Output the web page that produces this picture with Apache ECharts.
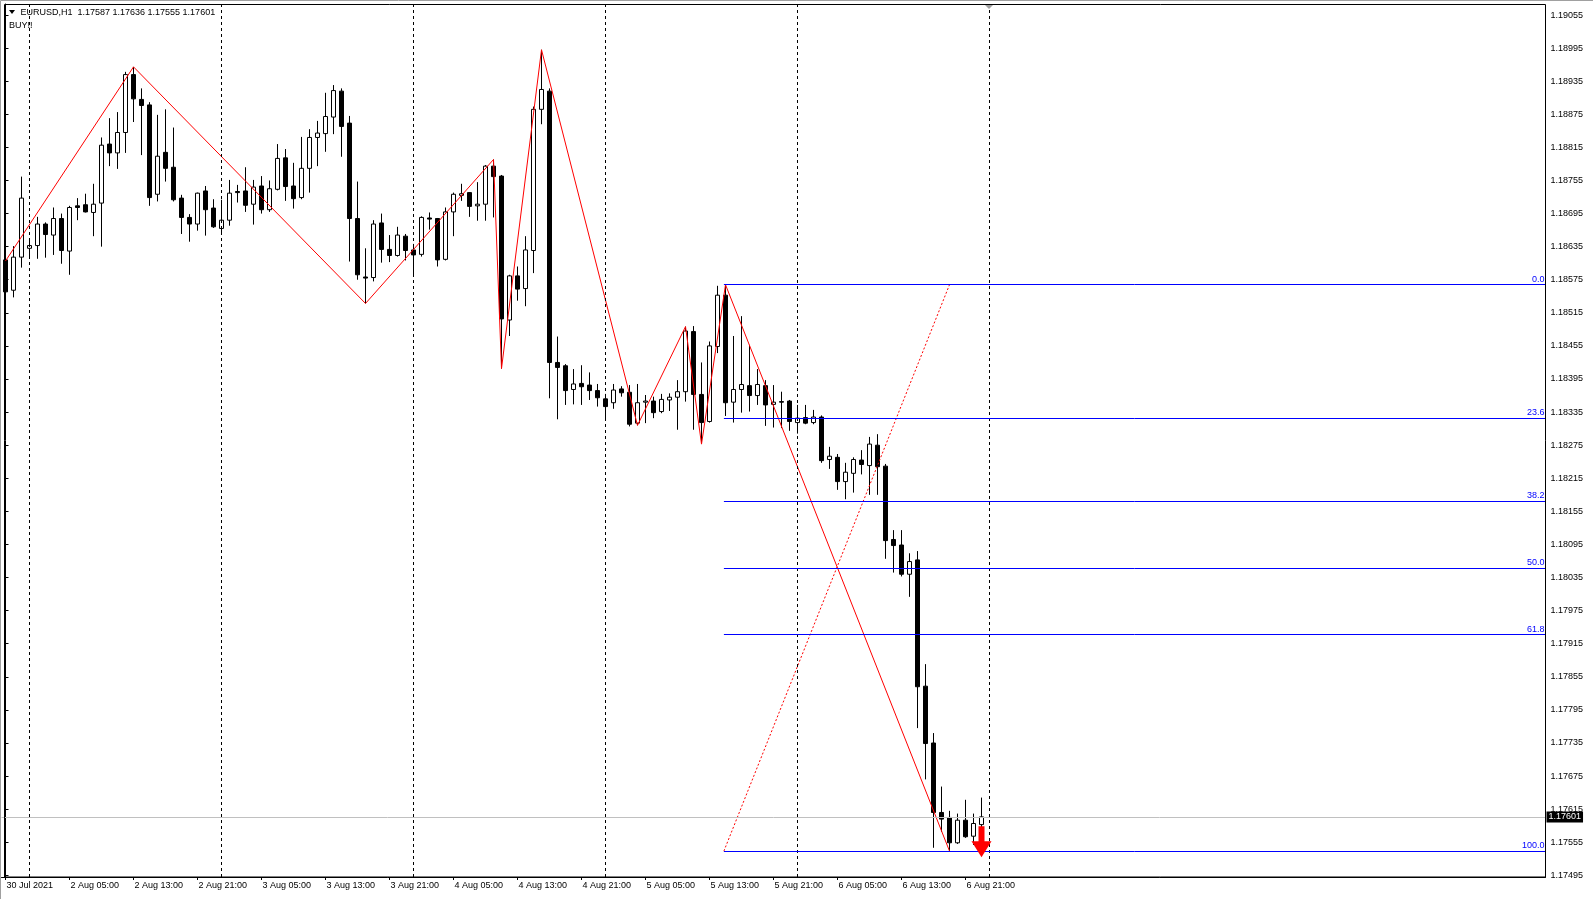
<!DOCTYPE html>
<html><head><meta charset="utf-8">
<script src="https://cdn.jsdelivr.net/npm/echarts@6/dist/echarts.min.js"></script>
<style>html,body{margin:0;padding:0;background:#fff}#c{width:1593px;height:900px}</style>
</head><body><div id="c"></div>
<script>
// ---- data (EURUSD H1, bar 0 = 30 Jul 2021 21:00) ----
const opens = [1.18611,1.18556,1.18616,1.18632,1.18637,1.18676,1.18656,1.18686,1.18627,1.18709,
1.18711,1.18697,1.18714,1.18821,1.18805,1.18842,1.18947,1.18902,1.18892,1.18730,
1.18806,1.18779,1.18723,1.18688,1.18676,1.18736,1.18705,1.18668,1.18683,1.18735,
1.18736,1.18712,1.18745,1.18702,1.18739,1.18796,1.18745,1.18724,1.18777,1.18833,
1.18840,1.18870,1.18917,1.18859,1.18686,1.18580,1.18579,1.18678,1.18630,1.18619,
1.18654,1.18629,1.18621,1.18687,1.18686,1.18612,1.18698,1.18728,1.18733,1.18709,
1.18712,1.18781,1.18763,1.18502,1.18582,1.18559,1.18628,1.18884,1.18917,1.18425,
1.18419,1.18376,1.18387,1.18384,1.18374,1.18359,1.18352,1.18377,1.18371,1.18315,
1.18353,1.18355,1.18336,1.18357,1.18362,1.18372,1.18481,1.18367,1.18318,1.18454,
1.18547,1.18353,1.18376,1.18383,1.18365,1.18383,1.18349,1.18354,1.18355,1.18316,
1.18325,1.18316,1.18326,1.18249,1.18253,1.18209,1.18224,1.18248,1.18238,1.18275,
1.18237,1.18104,1.18094,1.18041,1.18067,1.17838,1.17735,1.17609,1.17600,1.17554,
1.17595,1.17566,1.17587];
const highs = [1.18623,1.18636,1.18762,1.18648,1.18689,1.18679,1.18706,1.18695,1.18709,1.18723,
1.18731,1.18749,1.18833,1.18868,1.18879,1.18952,1.18961,1.18922,1.18897,1.18874,
1.18884,1.18851,1.18729,1.18694,1.18733,1.18745,1.18721,1.18720,1.18756,1.18747,
1.18779,1.18756,1.18763,1.18755,1.18821,1.18812,1.18787,1.18834,1.18848,1.18863,
1.18914,1.18928,1.18922,1.18872,1.18753,1.18632,1.18683,1.18695,1.18656,1.18671,
1.18658,1.18640,1.18690,1.18697,1.18687,1.18706,1.18733,1.18749,1.18734,1.18752,
1.18783,1.18793,1.18765,1.18584,1.18599,1.18654,1.18889,1.18992,1.18922,1.18472,
1.18422,1.18413,1.18420,1.18407,1.18386,1.18368,1.18386,1.18382,1.18384,1.18386,
1.18366,1.18363,1.18368,1.18369,1.18393,1.18490,1.18491,1.18425,1.18463,1.18564,
1.18566,1.18473,1.18509,1.18457,1.18413,1.18393,1.18384,1.18372,1.18357,1.18348,
1.18348,1.18339,1.18329,1.18272,1.18259,1.18243,1.18253,1.18266,1.18290,1.18295,
1.18241,1.18121,1.18121,1.18079,1.18083,1.17878,1.17753,1.17656,1.17612,1.17607,
1.17632,1.17607,1.17636];
const lows = [1.18535,1.18543,1.18597,1.18614,1.18613,1.18615,1.18620,1.18604,1.18584,1.18683,
1.18697,1.18654,1.18635,1.18781,1.18776,1.18805,1.18861,1.18801,1.18709,1.18717,
1.18753,1.18717,1.18658,1.18644,1.18664,1.18655,1.18669,1.18657,1.18673,1.18715,
1.18698,1.18675,1.18695,1.18698,1.18737,1.18718,1.18704,1.18721,1.18733,1.18781,
1.18807,1.18839,1.18798,1.18608,1.18575,1.18532,1.18572,1.18606,1.18607,1.18617,
1.18610,1.18580,1.18617,1.18666,1.18599,1.18610,1.18654,1.18718,1.18689,1.18682,
1.18682,1.18688,1.18414,1.18473,1.18537,1.18527,1.18587,1.18857,1.18360,1.18322,
1.18348,1.18349,1.18348,1.18357,1.18345,1.18321,1.18341,1.18363,1.18309,1.18311,
1.18315,1.18324,1.18333,1.18337,1.18303,1.18354,1.18303,1.18277,1.18316,1.18442,
1.18328,1.18316,1.18334,1.18336,1.18348,1.18310,1.18307,1.18306,1.18301,1.18296,
1.18313,1.18313,1.18243,1.18232,1.18194,1.18177,1.18189,1.18222,1.18185,1.18185,
1.18069,1.18044,1.18037,1.18000,1.17762,1.17669,1.17545,1.17574,1.17539,1.17552,
1.17563,1.17550,1.17555];
const closes = [1.18553,1.18616,1.18723,1.18637,1.18676,1.18657,1.18686,1.18628,1.18706,1.18706,
1.18698,1.18712,1.18819,1.18805,1.18842,1.18947,1.18903,1.18891,1.18724,1.18799,
1.18777,1.18720,1.18688,1.18676,1.18732,1.18702,1.18671,1.18683,1.18732,1.18733,
1.18710,1.18743,1.18702,1.18740,1.18795,1.18744,1.18722,1.18777,1.18833,1.18841,
1.18871,1.18918,1.18853,1.18686,1.18584,1.18578,1.18676,1.18630,1.18619,1.18656,
1.18628,1.18620,1.18688,1.18685,1.18611,1.18698,1.18730,1.18731,1.18708,1.18712,
1.18781,1.18762,1.18504,1.18582,1.18558,1.18629,1.18884,1.18920,1.18425,1.18416,
1.18374,1.18386,1.18381,1.18374,1.18361,1.18345,1.18375,1.18370,1.18313,1.18352,
1.18355,1.18334,1.18358,1.18362,1.18372,1.18482,1.18367,1.18316,1.18455,1.18547,
1.18352,1.18376,1.18385,1.18365,1.18385,1.18348,1.18353,1.18353,1.18318,1.18324,
1.18315,1.18326,1.18247,1.18255,1.18209,1.18226,1.18249,1.18240,1.18277,1.18236,
1.18102,1.18093,1.18041,1.18064,1.17837,1.17734,1.17609,1.17597,1.17554,1.17595,
1.17565,1.17589,1.17601];

const timeLabels = ["30 Jul 2021","2 Aug 05:00","2 Aug 13:00","2 Aug 21:00","3 Aug 05:00","3 Aug 13:00",
"3 Aug 21:00","4 Aug 05:00","4 Aug 13:00","4 Aug 21:00","5 Aug 05:00","5 Aug 13:00","5 Aug 21:00",
"6 Aug 05:00","6 Aug 13:00","6 Aug 21:00"];
const labelStep = 8;
const priceTicks = [1.19055,1.18995,1.18935,1.18875,1.18815,1.18755,1.18695,1.18635,1.18575,1.18515,
1.18455,1.18395,1.18335,1.18275,1.18215,1.18155,1.18095,1.18035,1.17975,1.17915,1.17855,1.17795,
1.17735,1.17675,1.17615,1.17555,1.17495];
const separatorBars = [3,27,51,75,99,123];
const zigzagBars = [0,16,45,61,62,67,79,85,87,90,118];
const zigzagPrices = [1.18609,1.18961,1.18532,1.18793,1.18414,1.18992,1.18311,1.18490,1.18277,1.18566,1.17539];
const fibLevels = [0,23.6,38.2,50,61.8,100];
const fibHigh = 1.18566, fibLow = 1.17539;
const fibStartBar = 89.8, fibEndBar = 118;
const lastPrice = 1.17601;
const arrowBar = 122, arrowPrice = 1.17556;
const headerText = "EURUSD,H1  1.17587 1.17636 1.17555 1.17601";
const signalText = "BUY!!";

// ---- layout ----
const SLOTS = 193;
const X_MIN = -0.5, X_MAX = 192.5;
const FONT = "'Liberation Sans', Arial, sans-serif";
const cats = Array.from({length: SLOTS}, (_, i) => String(i));
const labelFn = (idx) => idx % labelStep === 0 && idx / labelStep < timeLabels.length;
const candleData = opens.map((o, i) => [o, closes[i], lows[i], highs[i]]);
const fibPrice = (lvl) => fibHigh - lvl / 100 * (fibHigh - fibLow);

const chart = echarts.init(document.getElementById('c'), null, {renderer: 'canvas'});
chart.setOption({
  animation: false,
  backgroundColor: '#ffffff',
  textStyle: {fontFamily: FONT, fontSize: 9},
  grid: {left: 1.5, top: 4, width: 1544, height: 873, show: false},
  xAxis: [{
    type: 'category', data: cats, boundaryGap: true,
    axisLine: {show: true, lineStyle: {color: '#000', width: 1}},
    axisTick: {show: true, alignWithLabel: true, interval: labelFn, length: 3, lineStyle: {color: '#000'}},
    axisLabel: {interval: labelFn, formatter: (v, i) => timeLabels[Math.round(Number(v) / labelStep)],
      align: 'left', margin: 4, fontSize: 9, color: '#000', fontFamily: FONT, padding: [0, 0, 0, 1]},
    splitLine: {show: false}
  }, {
    type: 'value', min: X_MIN, max: X_MAX, show: false
  }],
  yAxis: [{
    type: 'value', position: 'right', min: 1.17492, max: 1.19075, scale: true,
    axisLine: {show: true, lineStyle: {color: '#000', width: 1}},
    axisTick: {show: true, customValues: priceTicks, length: 3, lineStyle: {color: '#000'}},
    axisLabel: {customValues: priceTicks, formatter: (v) => Number(v).toFixed(5), margin: 5,
      fontSize: 9, color: '#000', fontFamily: FONT},
    splitLine: {show: false}
  }],
  graphic: [
    {type: 'rect', shape: {x: 4.5, y: 4.5, width: 1541, height: 872.5}, style: {fill: null, stroke: '#000', lineWidth: 1}, z: 100, silent: true},
    {type: 'polyline', shape: {points: [[0.5, 899], [0.5, 0.5], [1593, 0.5]]}, style: {stroke: '#a0a0a0', lineWidth: 1, fill: null}, silent: true},
    {type: 'polygon', shape: {points: [[985, 5], [993, 5], [989, 9]]}, style: {fill: '#a0a0a0'}, z: 100, silent: true},
    {type: 'polygon', shape: {points: [[9, 10], [15, 10], [12, 14]]}, style: {fill: '#000'}, z: 100, silent: true},
    {type: 'text', x: 20.5, y: 12.5, style: {text: headerText, font: "9px 'Liberation Sans'", fill: '#000', verticalAlign: 'middle'}, z: 100, silent: true},
    {type: 'text', x: 9, y: 25.5, style: {text: signalText, font: "9px 'Liberation Sans'", fill: '#000', verticalAlign: 'middle'}, z: 100, silent: true}
  ],
  series: [
    {
      name: 'under', type: 'line', xAxisIndex: 1, yAxisIndex: 0, data: [], z: 1,
      markLine: {
        silent: true, symbol: ['none', 'none'], animation: false,
        data: [
          ...separatorBars.map(b => ({xAxis: b, lineStyle: {color: '#000', type: [3, 3], width: 1}, label: {show: false}})),
          [{coord: [X_MIN, lastPrice], lineStyle: {color: '#c0c0c0', type: 'solid', width: 1},
            label: {show: true, position: 'end', formatter: lastPrice.toFixed(5), backgroundColor: '#000',
              color: '#fff', padding: [1, 2, 1, 2], fontSize: 9, fontFamily: FONT, distance: 1}},
           {coord: [X_MAX, lastPrice]}]
        ]
      }
    },
    {
      name: 'EURUSD', type: 'candlestick', xAxisIndex: 0, yAxisIndex: 0, data: candleData, z: 2,
      barWidth: 5,
      itemStyle: {color: '#ffffff', color0: '#000000', borderColor: '#000000', borderColor0: '#000000', borderWidth: 1}
    },
    {
      name: 'zigzag', type: 'line', xAxisIndex: 1, yAxisIndex: 0, z: 3, symbol: 'none', silent: true,
      data: zigzagBars.map((b, i) => [b, zigzagPrices[i]]),
      lineStyle: {color: '#ff0000', width: 1},
      markPoint: {
        silent: true, animation: false,
        data: [{coord: [arrowBar, arrowPrice], symbol: 'path://M7,0L13,0L13,15L20,15L10,31L0,15L7,15Z',
          symbolSize: [20, 31], itemStyle: {color: '#ff0000'}, label: {show: false}}]
      }
    },
    {
      name: 'fib', type: 'line', xAxisIndex: 1, yAxisIndex: 0, z: 3, symbol: 'none', silent: true,
      data: [[fibStartBar, fibLow], [fibEndBar, fibHigh]],
      lineStyle: {color: '#ff0000', width: 1, type: [2, 2]},
      markLine: {
        silent: true, symbol: ['none', 'none'], animation: false,
        data: fibLevels.map(l => [
          {coord: [fibStartBar, fibPrice(l)], lineStyle: {color: '#0000ff', width: 1, type: 'solid'},
           label: {show: true, position: 'insideEndTop', formatter: l.toFixed(1), color: '#0000ff', fontSize: 9, fontFamily: FONT, distance: 1}},
          {coord: [X_MAX, fibPrice(l)]}
        ])
      }
    }
  ]
});
</script></body></html>
